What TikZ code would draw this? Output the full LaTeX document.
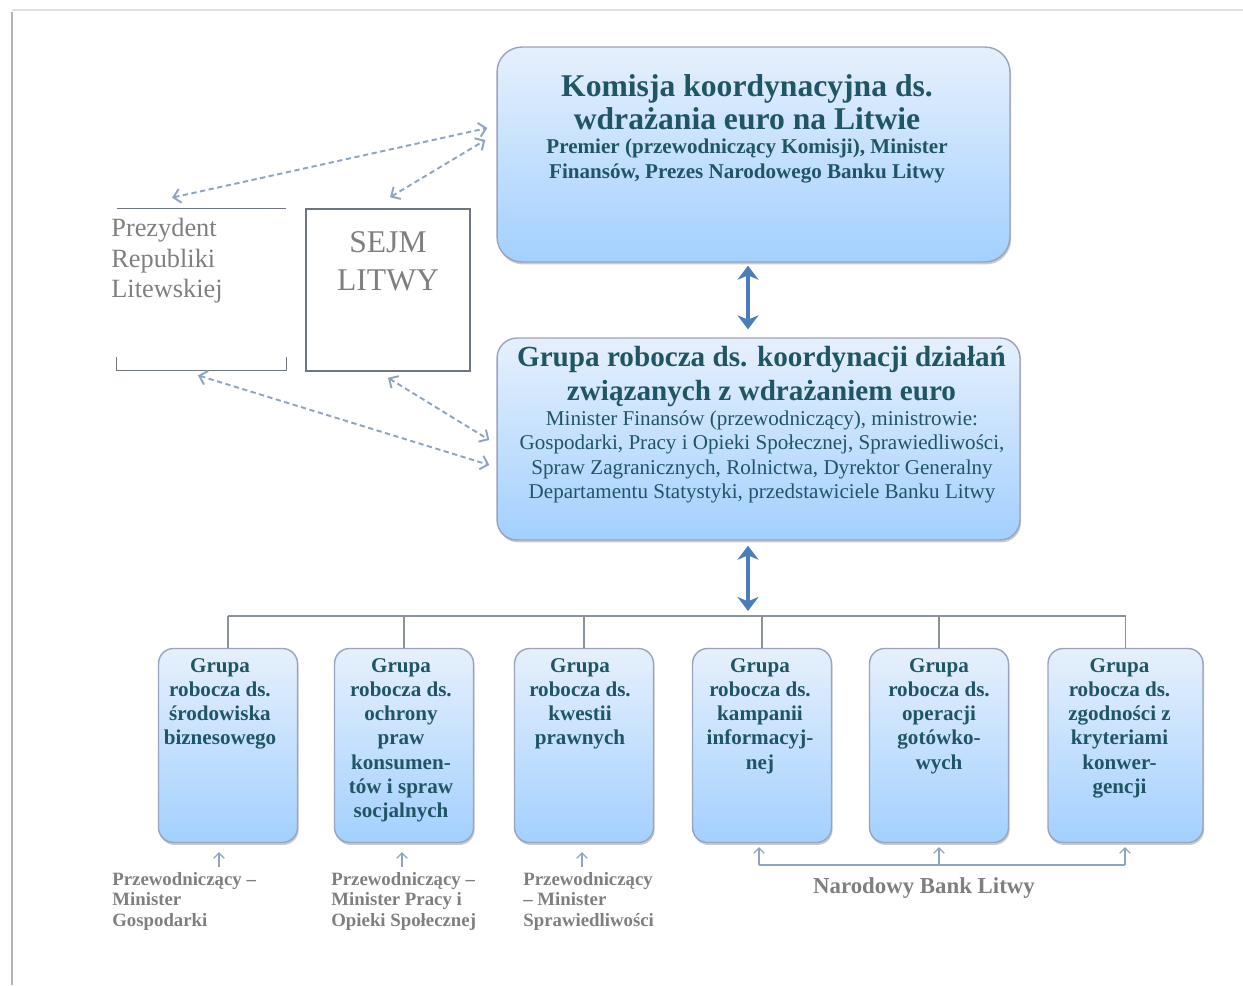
\documentclass[tikz,border=0pt]{standalone}
\usepackage{fontspec}
\setmainfont{Liberation Serif}
\usetikzlibrary{arrows.meta,positioning,shadows}
\definecolor{lttext}{HTML}{1F5564}
\definecolor{ltgray}{HTML}{7F7F7F}
\definecolor{lttop}{HTML}{E6F0FC}
\definecolor{ltbottom}{HTML}{A3D0FF}
\definecolor{ltborder}{HTML}{9AA3BC}
\definecolor{ltblue}{HTML}{4A7EBB}
\definecolor{ltdash}{HTML}{8FA4C0}
\definecolor{ltline}{HTML}{8A939B}
\definecolor{ltframe}{HTML}{6E7780}

\tikzset{
  bluebox/.style={top color=lttop, bottom color=ltbottom, draw=ltborder, line width=0.8pt,
    drop shadow={shadow xshift=0.6pt, shadow yshift=-1.4pt, opacity=0.35, fill=black!60}},
  groupbox/.style={bluebox, rounded corners=0.3cm, minimum width=2.78cm, minimum height=3.88cm},
  grouptext/.style={font=\bfseries\fontsize{12}{13.8}\selectfont, text=lttext, align=center, inner sep=0pt},
  chairtext/.style={font=\bfseries\fontsize{10.7}{11.6}\selectfont, text=ltgray, align=left, inner sep=0pt, anchor=north west},
  bigarrow/.style={ltblue, line width=2.8pt, {Stealth[length=8pt,width=12pt,inset=2.5pt]}-{Stealth[length=8pt,width=12pt,inset=2.5pt]}},
  dasharrow/.style={ltdash, line width=1.1pt, dash pattern=on 3pt off 2pt,
    {Straight Barb[length=4pt,width=8pt]}-{Straight Barb[length=4pt,width=8pt]}},
  connector/.style={ltline, line width=0.8pt},
  smallarrow/.style={ltdash, line width=0.7pt, -{Straight Barb[length=3pt,width=6pt]}}
}

\begin{document}
\begin{tikzpicture}[x=0.02cm, y=-0.02cm]
  \useasboundingbox (0,0) rectangle (1243,985);

  % ---- Page frame ------------------------------------------
  \draw[black!12, line width=1.2pt] (12,10) -- (1243,10);
  \draw[black!30, line width=1.2pt] (12,12) -- (12,985);

  % ---- Commission (top) ------------------------------------
  \node[bluebox, rounded corners=0.5cm, minimum width=10.26cm, minimum height=4.3cm] (komisja) at (753.5,154.5) {};
  \node[font=\bfseries\fontsize{18}{19}\selectfont, text=lttext, align=center, inner sep=0pt, anchor=north]
    (komisjatytul) at (747,74) {Komisja koordynacyjna ds.\\wdrażania euro na Litwie};
  \node[font=\bfseries\fontsize{12}{14.2}\selectfont, text=lttext, align=center, inner sep=0pt, anchor=north]
    (komisjasklad) at (747,139) {Premier (przewodniczący Komisji), Minister\\Finansów, Prezes Narodowego Banku Litwy};

  % ---- Working group for coordination ----------------------
  \node[bluebox, rounded corners=0.4cm, minimum width=10.46cm, minimum height=4.04cm] (koordynacja) at (758.5,439) {};
  \node[font=\bfseries\fontsize{16.6}{19.3}\selectfont, text=lttext, align=center, inner sep=0pt, anchor=north]
    (koordynacjatytul) at (761.5,346) {Grupa robocza ds. koordynacji działań\\związanych z wdrażaniem euro};
  \node[font=\fontsize{12}{14}\selectfont, text=lttext, align=center, inner sep=0pt, anchor=north]
    (koordynacjasklad) at (762,410) {Minister Finansów (przewodniczący), ministrowie:\\
      Gospodarki, Pracy i Opieki Społecznej, Sprawiedliwości,\\
      Spraw Zagranicznych, Rolnictwa, Dyrektor Generalny\\
      Departamentu Statystyki, przedstawiciele Banku Litwy};

  % ---- President and Seimas --------------------------------
  \node[minimum width=3.38cm, minimum height=3.22cm] (prezydent) at (201.5,289.5) {};
  \draw[ltframe, line width=0.9pt] (prezydent.north west) -- (prezydent.north east);
  \draw[ltframe, line width=0.9pt] ([yshift=0.26cm]prezydent.south west) -- (prezydent.south west)
    -- (prezydent.south east) -- ([yshift=0.26cm]prezydent.south east);
  \node[font=\fontsize{15}{17.3}\selectfont, text=ltgray, align=left, inner sep=0pt, anchor=north west]
    (prezydenttekst) at (111,218) {Prezydent\\Republiki\\Litewskiej};

  \node[draw=ltframe, line width=0.9pt, minimum width=3.28cm, minimum height=3.24cm] (sejm) at (388,290) {};
  \node[font=\fontsize{18}{21.5}\selectfont, text=ltgray, align=center, inner sep=0pt, anchor=north]
    (sejmtekst) at (388,231) {SEJM\\LITWY};

  % dashed links
  \draw[dasharrow] ([xshift=-0.59cm,yshift=0.22cm]prezydent.north) -- ([xshift=-0.18cm,yshift=0.53cm]komisja.west);
  \draw[dasharrow] ([xshift=0.04cm,yshift=0.22cm]sejm.north) -- ([xshift=-0.22cm,yshift=0.29cm]komisja.west);
  \draw[dasharrow] ([xshift=-0.07cm,yshift=-0.1cm]prezydent.south) -- ([xshift=-0.14cm,yshift=-0.52cm]koordynacja.west);
  \draw[dasharrow] ([yshift=-0.12cm]sejm.south) -- ([xshift=-0.14cm,yshift=-0.02cm]koordynacja.west);

  % ---- Main arrows -----------------------------------------
  \coordinate (rozdzial) at (748,616);
  \draw[bigarrow, shorten <=0.06cm, shorten >=0.16cm] (komisja.south -| rozdzial) -- (koordynacja.north -| rozdzial);
  \draw[bigarrow, shorten <=0.1cm, shorten >=0.1cm] (koordynacja.south -| rozdzial) -- (rozdzial);

  % ---- Sub-groups ------------------------------------------
  \node[groupbox] (srodowisko) at (228,745.5) {};
  \node[groupbox] (konsumenci) at (404,745.5) {};
  \node[groupbox] (prawo) at (584,745.5) {};
  \node[groupbox] (kampania) at (762,745.5) {};
  \node[groupbox] (gotowka) at (939,745.5) {};
  \node[groupbox, minimum width=3.1cm] (konwergencja) at (1125.5,745.5) {};

  \node[grouptext, below=0.2cm of srodowisko.north, xshift=-0.16cm] (srodowiskotekst) {Grupa\\robocza ds.\\środowiska\\biznesowego};
  \node[grouptext, below=0.2cm of konsumenci.north, xshift=-0.06cm] (konsumencitekst) {Grupa\\robocza ds.\\ochrony\\praw\\konsumen-\\tów i spraw\\socjalnych};
  \node[grouptext, below=0.2cm of prawo.north, xshift=-0.08cm] (prawotekst) {Grupa\\robocza ds.\\kwestii\\prawnych};
  \node[grouptext, below=0.2cm of kampania.north, xshift=-0.04cm] (kampaniatekst) {Grupa\\robocza ds.\\kampanii\\informacyj-\\nej};
  \node[grouptext, below=0.2cm of gotowka.north] (gotowkatekst) {Grupa\\robocza ds.\\operacji\\gotówko-\\wych};
  \node[grouptext, below=0.2cm of konwergencja.north, xshift=-0.12cm] (konwergencjatekst) {Grupa\\robocza ds.\\zgodności z\\kryteriami\\konwer-\\gencji};

  % tree lines
  \draw[connector] (srodowisko.north |- rozdzial) -- (konwergencja.north |- rozdzial);
  \draw[connector] (srodowisko.north) -- (srodowisko.north |- rozdzial);
  \draw[connector] (konsumenci.north) -- (konsumenci.north |- rozdzial);
  \draw[connector] (prawo.north) -- (prawo.north |- rozdzial);
  \draw[connector] (kampania.north) -- (kampania.north |- rozdzial);
  \draw[connector] (gotowka.north) -- (gotowka.north |- rozdzial);
  \draw[connector] (konwergencja.north) -- (konwergencja.north |- rozdzial);

  % ---- Chairs ----------------------------------------------
  \node[chairtext] (przew1) at (112,872) {Przewodniczący –\\Minister\\Gospodarki};
  \node[chairtext] (przew2) at (331,872) {Przewodniczący –\\Minister Pracy i\\Opieki Społecznej};
  \node[chairtext] (przew3) at (523,872) {Przewodniczący\\– Minister\\Sprawiedliwości};

  \coordinate (p1) at (219,867);
  \coordinate (p2) at (402,867);
  \coordinate (p3) at (582,867);
  \draw[smallarrow, shorten >=0.18cm] (p1) -- (p1 |- srodowisko.south);
  \draw[smallarrow, shorten >=0.18cm] (p2) -- (p2 |- konsumenci.south);
  \draw[smallarrow, shorten >=0.18cm] (p3) -- (p3 |- prawo.south);

  % National bank bracket
  \coordinate (nbl) at (759,865);
  \coordinate (nbr) at (1125,865);
  \draw[connector, ltdash] (nbl) -- (nbr);
  \draw[smallarrow, shorten >=0.08cm] (nbl) -- (nbl |- kampania.south);
  \draw[smallarrow, shorten >=0.08cm] (gotowka.south |- nbl) -- (gotowka.south);
  \draw[smallarrow, shorten >=0.08cm] (nbr) -- (nbr |- konwergencja.south);
  \node[font=\bfseries\fontsize{13}{15}\selectfont, text=ltgray, inner sep=0pt, anchor=base]
    (bank) at (924,893) {Narodowy Bank Litwy};

\end{tikzpicture}
\end{document}
